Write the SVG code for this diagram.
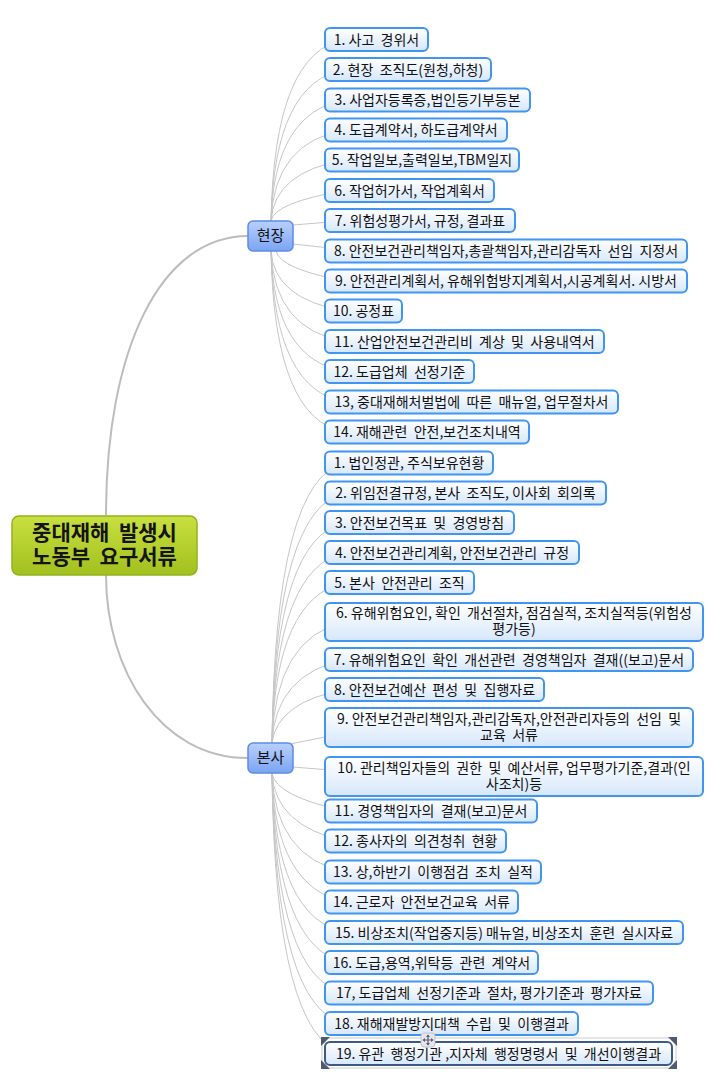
<svg xmlns="http://www.w3.org/2000/svg" width="717" height="1085" viewBox="0 0 717 1085">
<style>
text { font-family: "Noto Sans CJK KR", "Noto Sans", sans-serif; white-space: pre; fill: #111; }
.leaf { fill: url(#gLeaf); stroke: #3f95f0; stroke-width: 2; }
.leaf-sel { fill: url(#gLeaf); stroke: #3c5a86; stroke-width: 2; }
.lt { font-size: 14px; text-anchor: middle; }
.branch { fill: url(#gBranch); stroke: #5b8ce6; stroke-width: 1.5; }
.bt { font-size: 15px; text-anchor: middle; }
.root { fill: url(#gRoot); stroke: #94b21c; stroke-width: 1.5; }
.rt { font-size: 21px; font-weight: bold; text-anchor: middle; fill: #141414; }
.c { fill: none; stroke: #c6c6c6; stroke-width: 1; }
.cm { fill: none; stroke: #bdbdbd; stroke-width: 2; }
.h { fill: #4e5a70; }
</style>
<defs>
<linearGradient id="gLeaf" x1="0" y1="0" x2="0" y2="1"><stop offset="0" stop-color="#ffffff"/><stop offset="1" stop-color="#d6e7fb"/></linearGradient>
<linearGradient id="gBranch" x1="0" y1="0" x2="0" y2="1"><stop offset="0" stop-color="#b9d0fc"/><stop offset="1" stop-color="#7ca4f3"/></linearGradient>
<linearGradient id="gRoot" x1="0" y1="0" x2="0" y2="1"><stop offset="0" stop-color="#c8e040"/><stop offset="1" stop-color="#a2c01f"/></linearGradient>
</defs>
<rect x="0" y="0" width="717" height="1085" fill="#ffffff"/>

<g id="connectors">
<path class="cm" d="M106,515 C106,350 160,236 248,236"/>
<path class="cm" d="M106,575 C106,670 160,758 248,758"/>
<path class="c" d="M271,221 Q274,51.5 345,39.5"/>
<path class="c" d="M271,221 Q274,81.5 345,69.5"/>
<path class="c" d="M271,221 Q274,112 345,100"/>
<path class="c" d="M271,221 Q274,142 345,130"/>
<path class="c" d="M271,221 Q274,172 345,160"/>
<path class="c" d="M271,221 Q274,202.5 345,190.5"/>
<path class="c" d="M293,225 L330,222"/>
<path class="c" d="M293,244 L330,248"/>
<path class="c" d="M276,251 Q280,269 345,281"/>
<path class="c" d="M271,251 Q274,299 345,311"/>
<path class="c" d="M271,251 Q274,329.5 345,341.5"/>
<path class="c" d="M271,251 Q274,359.5 345,371.5"/>
<path class="c" d="M271,251 Q274,390 345,402"/>
<path class="c" d="M271,251 Q274,420 345,432"/>
<path class="c" d="M272,743 Q275,478 345,463"/>
<path class="c" d="M272,743 Q275,508 345,493"/>
<path class="c" d="M272,743 Q275,537.5 345,522.5"/>
<path class="c" d="M272,743 Q275,567.5 345,552.5"/>
<path class="c" d="M272,743 Q275,597.5 345,582.5"/>
<path class="c" d="M272,743 Q275,637 345,622"/>
<path class="c" d="M272,743 Q275,674.5 345,659.5"/>
<path class="c" d="M272,743 Q277,702 345,689.5"/>
<path class="c" d="M290,744 L330,736"/>
<path class="c" d="M293,767 L330,770"/>
<path class="c" d="M272,773 Q275,796 345,811"/>
<path class="c" d="M272,773 Q275,826 345,841"/>
<path class="c" d="M272,773 Q275,857 345,872"/>
<path class="c" d="M272,773 Q275,887 345,902"/>
<path class="c" d="M272,773 Q275,917.5 345,932.5"/>
<path class="c" d="M272,773 Q275,947.5 345,962.5"/>
<path class="c" d="M272,773 Q275,978 345,993"/>
<path class="c" d="M272,773 Q275,1008.5 345,1023.5"/>
<path class="c" d="M272,773 Q275,1038.5 345,1053.5"/>
</g>

<g id="root">
<rect class="root" x="12" y="516" width="185" height="59" rx="7"/>
<text class="rt" x="104.5" y="540">중대재해  발생시</text>
<text class="rt" x="104.5" y="564">노동부  요구서류</text>
</g>

<g id="b-hyeonjang">
<rect class="branch" x="248" y="221" width="45" height="30" rx="5"/>
<text class="bt" x="270.5" y="241">현장</text>
</g>
<g id="b-bonsa">
<rect class="branch" x="248" y="743" width="45" height="30" rx="5"/>
<text class="bt" x="270.5" y="763">본사</text>
</g>

<g id="h1"><rect class="leaf" x="325" y="28" width="103" height="23" rx="5"/><text class="lt" x="376.5" y="44.5">1. 사고  경위서</text></g>
<g id="h2"><rect class="leaf" x="325" y="58" width="166" height="23" rx="5"/><text class="lt" x="408" y="74.5">2. 현장  조직도(원청,하청)</text></g>
<g id="h3"><rect class="leaf" x="325" y="88.5" width="205" height="23" rx="5"/><text class="lt" x="427.5" y="105">3. 사업자등록증,법인등기부등본</text></g>
<g id="h4"><rect class="leaf" x="325" y="118.5" width="182" height="23" rx="5"/><text class="lt" x="416" y="135">4. 도급계약서, 하도급계약서</text></g>
<g id="h5"><rect class="leaf" x="325" y="148.5" width="194" height="23" rx="5"/><text class="lt" x="422" y="165">5. 작업일보,출력일보,TBM일지</text></g>
<g id="h6"><rect class="leaf" x="325" y="179" width="169" height="23" rx="5"/><text class="lt" x="409.5" y="195.5">6. 작업허가서, 작업계획서</text></g>
<g id="h7"><rect class="leaf" x="325" y="209" width="190" height="23" rx="5"/><text class="lt" x="420" y="225.5">7. 위험성평가서, 규정, 결과표</text></g>
<g id="h8"><rect class="leaf" x="325" y="239.5" width="362" height="23" rx="5"/><text class="lt" x="506" y="256">8. 안전보건관리책임자,총괄책임자,관리감독자  선임  지정서</text></g>
<g id="h9"><rect class="leaf" x="325" y="269.5" width="362" height="23" rx="5"/><text class="lt" x="506" y="286">9. 안전관리계획서, 유해위험방지계획서,시공계획서. 시방서</text></g>
<g id="h10"><rect class="leaf" x="325" y="299.5" width="77" height="23" rx="5"/><text class="lt" x="363.5" y="316">10. 공정표</text></g>
<g id="h11"><rect class="leaf" x="325" y="330" width="279" height="23" rx="5"/><text class="lt" x="464.5" y="346.5">11. 산업안전보건관리비  계상  및  사용내역서</text></g>
<g id="h12"><rect class="leaf" x="325" y="360" width="149" height="23" rx="5"/><text class="lt" x="399.5" y="376.5">12. 도급업체  선정기준</text></g>
<g id="h13"><rect class="leaf" x="325" y="390.5" width="293" height="23" rx="5"/><text class="lt" x="471.5" y="407">13, 중대재해처벌법에  따른  매뉴얼, 업무절차서</text></g>
<g id="h14"><rect class="leaf" x="325" y="420.5" width="204" height="23" rx="5"/><text class="lt" x="427" y="437">14. 재해관련  안전,보건조치내역</text></g>

<g id="s1"><rect class="leaf" x="325" y="451.5" width="168" height="23" rx="5"/><text class="lt" x="409" y="468">1. 법인정관, 주식보유현황</text></g>
<g id="s2"><rect class="leaf" x="325" y="481.5" width="281" height="23" rx="5"/><text class="lt" x="465.5" y="498">2. 위임전결규정, 본사  조직도, 이사회  회의록</text></g>
<g id="s3"><rect class="leaf" x="325" y="511" width="189" height="23" rx="5"/><text class="lt" x="419.5" y="527.5">3. 안전보건목표  및  경영방침</text></g>
<g id="s4"><rect class="leaf" x="325" y="541" width="254" height="23" rx="5"/><text class="lt" x="452" y="557.5">4. 안전보건관리계획, 안전보건관리  규정</text></g>
<g id="s5"><rect class="leaf" x="325" y="571" width="149" height="23" rx="5"/><text class="lt" x="399.5" y="587.5">5. 본사  안전관리  조직</text></g>
<g id="s6"><rect class="leaf" x="325" y="603" width="378" height="38" rx="5"/><text class="lt" x="514" y="618">6. 유해위험요인, 확인  개선절차, 점검실적, 조치실적등(위험성</text><text class="lt" x="514" y="634">평가등)</text></g>
<g id="s7"><rect class="leaf" x="325" y="648" width="368" height="23" rx="5"/><text class="lt" x="509" y="664.5">7. 유해위험요인  확인  개선관련  경영책임자  결재((보고)문서</text></g>
<g id="s8"><rect class="leaf" x="325" y="678" width="219" height="23" rx="5"/><text class="lt" x="434.5" y="694.5">8. 안전보건예산  편성  및  집행자료</text></g>
<g id="s9"><rect class="leaf" x="325" y="708" width="368" height="39" rx="5"/><text class="lt" x="509" y="723.5">9. 안전보건관리책임자,관리감독자,안전관리자등의  선임  및</text><text class="lt" x="509" y="739.5">교육  서류</text></g>
<g id="s10"><rect class="leaf" x="325" y="757" width="378" height="39" rx="5"/><text class="lt" x="514" y="772.5">10. 관리책임자들의  권한  및  예산서류, 업무평가기준,결과(인</text><text class="lt" x="514" y="788.5">사조치)등</text></g>
<g id="s11"><rect class="leaf" x="325" y="799.5" width="212" height="23" rx="5"/><text class="lt" x="431" y="816">11. 경영책임자의  결재(보고)문서</text></g>
<g id="s12"><rect class="leaf" x="325" y="829.5" width="181" height="23" rx="5"/><text class="lt" x="415.5" y="846">12. 종사자의  의견청취  현황</text></g>
<g id="s13"><rect class="leaf" x="325" y="860.5" width="216" height="23" rx="5"/><text class="lt" x="433" y="877">13. 상,하반기  이행점검  조치  실적</text></g>
<g id="s14"><rect class="leaf" x="325" y="890.5" width="193" height="23" rx="5"/><text class="lt" x="421.5" y="907">14. 근로자  안전보건교육  서류</text></g>
<g id="s15"><rect class="leaf" x="325" y="921" width="358" height="23" rx="5"/><text class="lt" x="504" y="937.5">15. 비상조치(작업중지등) 매뉴얼, 비상조치  훈련  실시자료</text></g>
<g id="s16"><rect class="leaf" x="325" y="951" width="213" height="23" rx="5"/><text class="lt" x="431.5" y="967.5">16. 도급,용역,위탁등  관련  계약서</text></g>
<g id="s17"><rect class="leaf" x="325" y="981.5" width="328" height="23" rx="5"/><text class="lt" x="489" y="998">17, 도급업체  선정기준과  절차, 평가기준과  평가자료</text></g>
<g id="s18"><rect class="leaf" x="325" y="1012" width="253" height="23" rx="5"/><text class="lt" x="451.5" y="1028.5">18. 재해재발방지대책  수립  및  이행결과</text></g>
<g id="s19">
<rect x="322" y="1038" width="354" height="30" fill="none" stroke="#c9ccd4" stroke-width="1"/>
<rect class="leaf-sel" x="325" y="1042" width="347" height="23" rx="5"/>
<text class="lt" x="498.5" y="1058.5">19. 유관  행정기관 ,지자체  행정명령서  및  개선이행결과</text>
<polygon class="h" points="321,1037 330,1037 321,1046"/>
<polygon class="h" points="677,1037 668,1037 677,1046"/>
<polygon class="h" points="321,1069 330,1069 321,1060"/>
<polygon class="h" points="677,1069 668,1069 677,1060"/>
<rect x="421" y="1033" width="14" height="14" rx="3" fill="#e4e6ea" stroke="#b8bcc4" stroke-width="0.8"/>
<path d="M428,1035 L428,1045 M423,1040 L433,1040" stroke="#5a6070" stroke-width="1.2"/>
<path d="M428,1034.5 L426,1037 L430,1037 Z M428,1045.5 L426,1043 L430,1043 Z M422.5,1040 L425,1038 L425,1042 Z M433.5,1040 L431,1038 L431,1042 Z" fill="#5a6070"/>
</g>
</svg>
